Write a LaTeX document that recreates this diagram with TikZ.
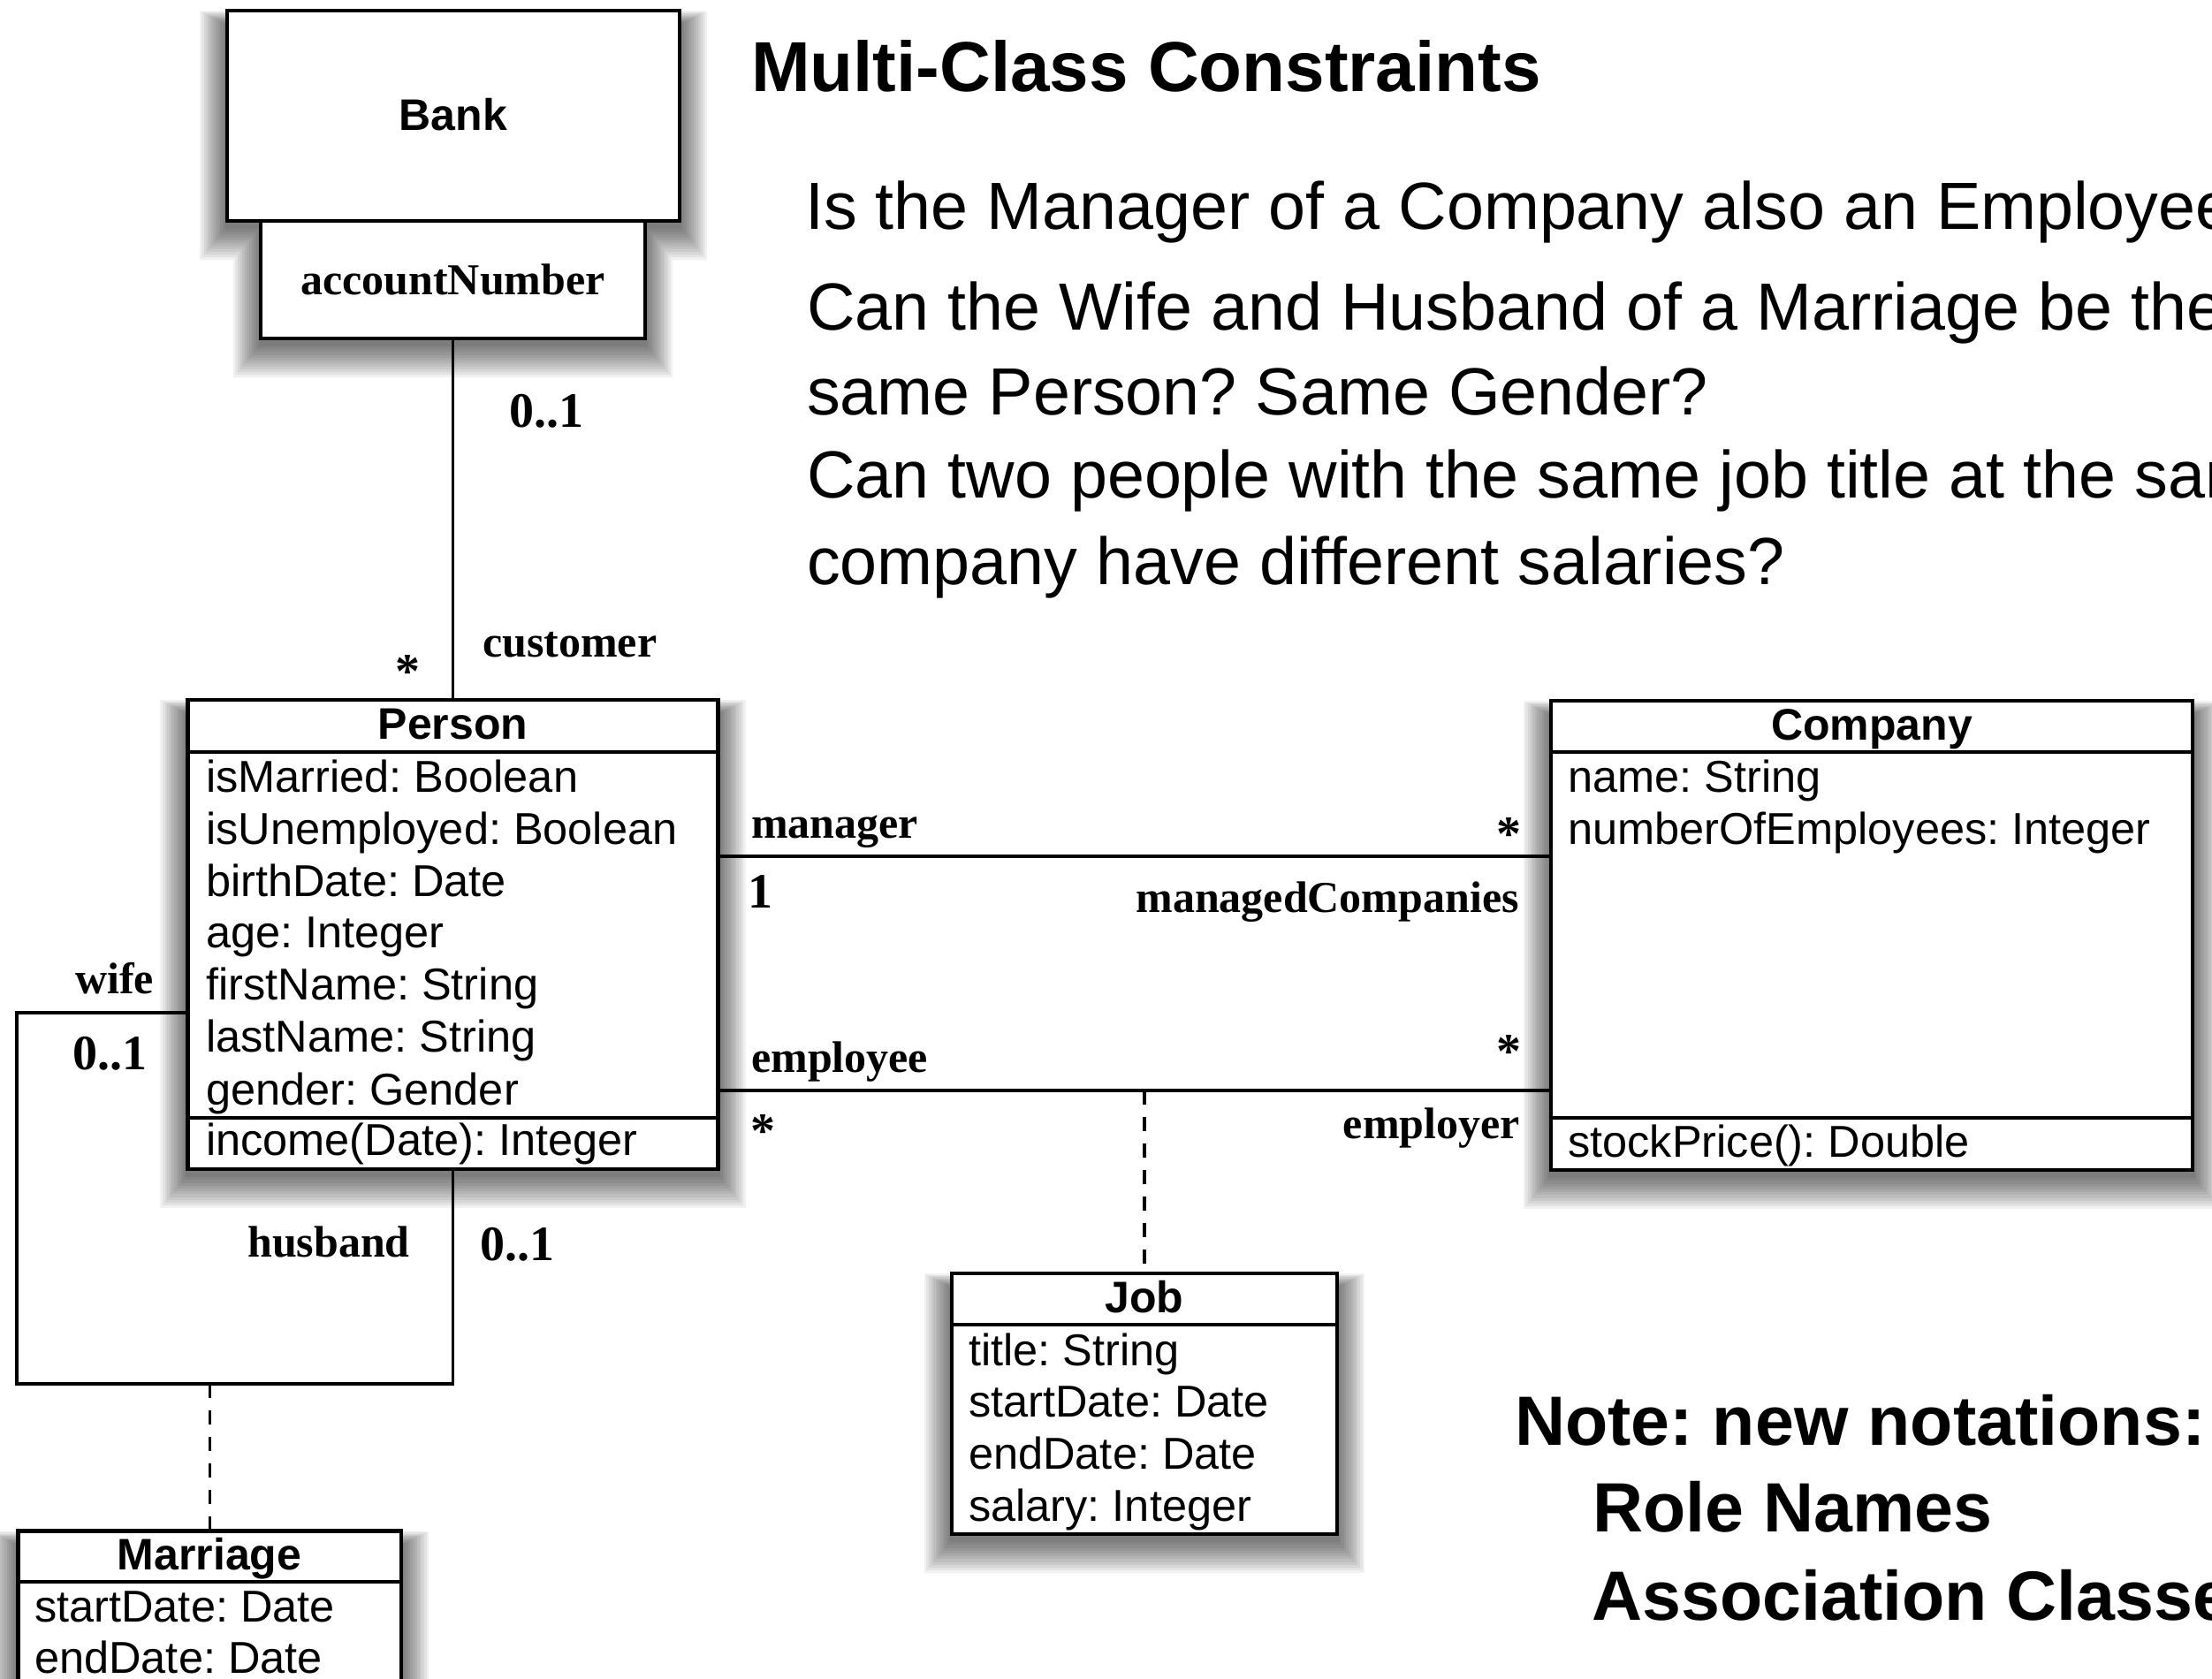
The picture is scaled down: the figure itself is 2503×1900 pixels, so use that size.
\documentclass[tikz,border=0pt]{standalone}
\usepackage{fontspec}
\setmainfont{Liberation Sans}
\newfontfamily\rolefont{Liberation Serif}
\newcommand{\boxshade}[4]{%
  \foreach \k in {1,...,12}{%
    \fill[black,opacity=0.055] ({#1-2.6*\k},{#2+16-1.3*\k}) rectangle ({#3+2.6*\k},{#4+6+3.2*\k});
  }%
}
\tikzset{
  umlbox/.style={draw, line width=4.5pt, fill=white, inner sep=0pt, outer sep=0pt, anchor=north west},
  sepline/.style={line width=4.5pt},
  attr/.style={anchor=base west, inner sep=0pt, font=\fontsize{50.5}{59}\selectfont},
  cname/.style={anchor=base, inner sep=0pt, font=\fontsize{50}{59}\selectfont\bfseries},
  role/.style={inner sep=0pt, font=\rolefont\bfseries\fontsize{50}{59}\selectfont},
  mult/.style={inner sep=0pt, font=\rolefont\bfseries\fontsize{56}{64}\selectfont},
  assoc/.style={line width=3.5pt},
  assocdash/.style={line width=3.5pt, dash pattern=on 16pt off 14pt},
  qtext/.style={anchor=base west, inner sep=0pt, font=\fontsize{75.5}{92}\selectfont},
  htext/.style={anchor=base west, inner sep=0pt, font=\fontsize{79}{92}\selectfont\bfseries},
  ttext/.style={anchor=base west, inner sep=0pt, font=\fontsize{80}{92}\selectfont\bfseries},
}
\begin{document}
\frenchspacing
\begin{tikzpicture}[x=1pt,y=-1pt]
\useasboundingbox (0,0) rectangle (2503,1900);
\clip (0,0) rectangle (2503,1900);
\fill[white] (0,0) rectangle (2503,1900);

% ---------- shadows ----------
\foreach \k in {1,...,12}{%
  \fill[black,opacity=0.055]
    ({257-2.6*\k},{12+16-1.3*\k}) rectangle ({769+2.6*\k},{250+6+3.2*\k})
    ({295-2.6*\k},{250}) rectangle ({730+2.6*\k},{383+6+3.2*\k});
}
\boxshade{212.5}{792}{812.5}{1323}
\boxshade{1755}{793}{2481}{1324}
\boxshade{1077}{1441}{1513}{1736}
\boxshade{20.5}{1732.5}{454}{1960}

% ---------- boxes ----------
\node[umlbox, minimum width=512pt, minimum height=238pt] (bank) at (257,12) {};
\node[umlbox, minimum width=435pt, minimum height=133pt] (acct) at (295,250) {};
\node[umlbox, minimum width=600pt, minimum height=531pt] (person) at (212.5,792) {};
\node[umlbox, minimum width=726pt, minimum height=531pt] (company) at (1755,793) {};
\node[umlbox, minimum width=436pt, minimum height=295pt] (job) at (1077,1441) {};
\node[umlbox, minimum width=433.5pt, minimum height=240pt] (marriage) at (20.5,1732.5) {};

% compartment lines
\draw[sepline] (person.west |- 0,851) -- (person.east |- 0,851);
\draw[sepline] (person.west |- 0,1265) -- (person.east |- 0,1265);
\draw[sepline] (company.west |- 0,851) -- (company.east |- 0,851);
\draw[sepline] (company.west |- 0,1265) -- (company.east |- 0,1265);
\draw[sepline] (job.west |- 0,1499) -- (job.east |- 0,1499);
\draw[sepline] (marriage.west |- 0,1790) -- (marriage.east |- 0,1790);

% ---------- class texts ----------
\node[cname] (bankname) at (513,148) {Bank};
\node[role, anchor=base] (acctname) at (512.5,333) {accountNumber};

\node[cname] (personname) at (512.5,836) {Person};
\node[attr] (p1) at (233,896) {isMarried: Boolean};
\node[attr] (p2) at (233,955) {isUnemployed: Boolean};
\node[attr] (p3) at (233,1014) {birthDate: Date};
\node[attr] (p4) at (233,1072) {age: Integer};
\node[attr] (p5) at (233,1131) {firstName: String};
\node[attr] (p6) at (233,1190) {lastName: String};
\node[attr] (p7) at (233,1250) {gender: Gender};
\node[attr] (p8) at (233,1307) {income(Date): Integer};

\node[cname] (companyname) at (2118,837) {Company};
\node[attr] (c1) at (1774,896) {name: String};
\node[attr] (c2) at (1774,955) {numberOfEmployees: Integer};
\node[attr] (c3) at (1774,1309) {stockPrice(): Double};

\node[cname] (jobname) at (1295,1485) {Job};
\node[attr] (j1) at (1096,1545) {title: String};
\node[attr] (j2) at (1096,1603) {startDate: Date};
\node[attr] (j3) at (1096,1662) {endDate: Date};
\node[attr] (j4) at (1096,1721) {salary: Integer};

\node[cname] (marriagename) at (237,1776) {Marriage};
\node[attr] (m1) at (39,1835) {startDate: Date};
\node[attr] (m2) at (39,1893) {endDate: Date};

% ---------- connectors ----------
\coordinate (mgr) at (0,969);
\coordinate (emp) at (0,1234);
\coordinate (loopcorner) at (19,1566);
\draw[assoc] (acct.south) -- (person.north);
\draw[assoc] (person.east |- mgr) -- (company.west |- mgr);
\draw[assoc] (person.east |- emp) -- (company.west |- emp);
\draw[assoc] (person.west |- 0,1146) -| (loopcorner) -| (person.south);
\draw[assocdash] (marriage.north |- loopcorner) -- (marriage.north);
\draw[assocdash] (job.north |- emp) -- (job.north);

% ---------- role names and multiplicities ----------
\node[mult, anchor=base west] (bankmult) at (576,483) {0..1};
\node[mult, anchor=base] (custmult) at (461,778) {*};
\node[role, anchor=base west] (customer) at (546,743) {customer};

\node[role, anchor=base west] (manager) at (850,948) {manager};
\node[mult, anchor=base] (mgrmult) at (1707,962) {*};
\node[mult, anchor=base west] (mgrone) at (846,1027) {1};
\node[role, anchor=base east] (managed) at (1719,1032) {managedCompanies};

\node[role, anchor=base west] (employee) at (850,1213) {employee};
\node[mult, anchor=base] (empmult) at (1707,1208) {*};
\node[mult, anchor=base] (empmultl) at (863,1298) {*};
\node[role, anchor=base east] (employer) at (1720,1288) {employer};

\node[role, anchor=base west] (wife) at (85,1124) {wife};
\node[mult, anchor=base west] (wifemult) at (82,1210) {0..1};
\node[role, anchor=base west] (husband) at (280,1422) {husband};
\node[mult, anchor=base west] (husbmult) at (543,1426) {0..1};

% ---------- headings and notes ----------
\node[ttext] (title) at (850,104) {Multi-Class Constraints};
\node[qtext] (q1) at (911,259) {Is the Manager of a Company also an Employee?};
\node[qtext] (q2) at (913,373) {Can the Wife and Husband of a Marriage be the};
\node[qtext] (q3) at (913,469) {same Person? Same Gender?};
\node[qtext] (q4) at (913,563) {Can two people with the same job title at the same};
\node[qtext] (q5) at (913,661) {company have different salaries?};

\node[htext] (note) at (1714,1635) {Note: new notations:};
\node[htext] (rolenames) at (1802,1733) {Role Names};
\node[htext] (assocclasses) at (1801,1833) {Association Classes};
\end{tikzpicture}
\end{document}
